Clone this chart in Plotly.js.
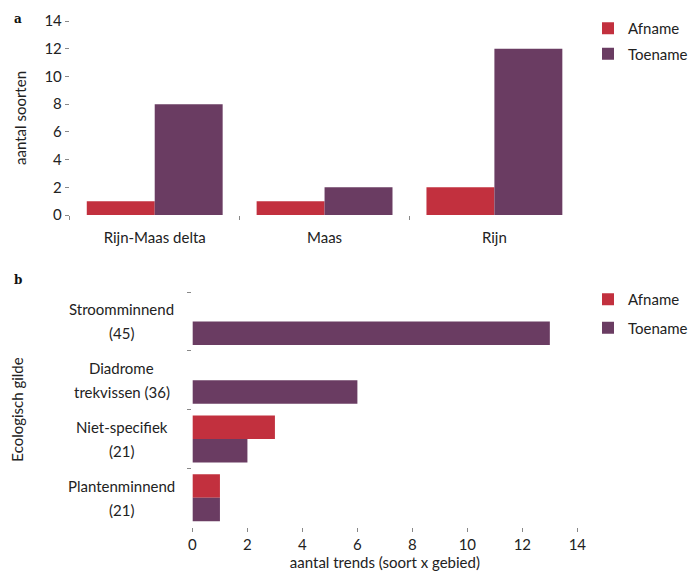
<!DOCTYPE html>
<html>
<head>
<meta charset="utf-8">
<script src="https://cdn.plot.ly/plotly-3.0.1.min.js"></script>
<style>html,body{margin:0;padding:0;background:#fff;}#chart{width:693px;height:571px;}</style>
</head>
<body>
<div id="chart"></div>
<script>
// Panel a
const regions = ['Rijn-Maas delta', 'Maas', 'Rijn'];
const regionAfname = [1, 1, 2];
const regionToename = [8, 2, 12];
const yTicksA = [0, 2, 4, 6, 8, 10, 12, 14];

// Panel b
const guilds = ['Stroomminnend<br>(45)', 'Diadrome<br>trekvissen (36)', 'Niet-specifiek<br>(21)', 'Plantenminnend<br>(21)'];
const guildAfname = [0, 0, 3, 1];
const guildToename = [13, 6, 2, 1];
const xTicksB = [0, 2, 4, 6, 8, 10, 12, 14];

const seriesNames = ['Afname', 'Toename'];
const RED = '#c2303e';
const PURPLE = '#6a3c62';
const FONT = 'Lato, "Open Sans", sans-serif';
const TXT = '#222222';
const FS = 15;

const traces = [
  {type: 'bar', x: regions, y: regionAfname, name: seriesNames[0], marker: {color: RED},
   xaxis: 'x', yaxis: 'y', legend: 'legend', legendgroup: 'a1'},
  {type: 'bar', x: regions, y: regionToename, name: seriesNames[1], marker: {color: PURPLE},
   xaxis: 'x', yaxis: 'y', legend: 'legend', legendgroup: 'a2'},
  {type: 'bar', orientation: 'h', y: guilds, x: guildAfname, name: seriesNames[0], marker: {color: RED},
   xaxis: 'x2', yaxis: 'y2', legend: 'legend2', legendgroup: 'b1'},
  {type: 'bar', orientation: 'h', y: guilds, x: guildToename, name: seriesNames[1], marker: {color: PURPLE},
   xaxis: 'x2', yaxis: 'y2', legend: 'legend2', legendgroup: 'b2'}
];

const W = 693, H = 571;
const annotations = [];
guilds.forEach(g => {
  const lines = g.split('<br>');
  lines.forEach((ln, i) => {
    annotations.push({
      text: ln, xref: 'paper', yref: 'y2', x: 122 / W, y: g, xanchor: 'center', yanchor: 'middle',
      yshift: ((lines.length - 1) / 2 - i) * 24, showarrow: false,
      font: {family: FONT, size: FS, color: TXT}
    });
  });
});
annotations.push({text: '<b>a</b>', xref: 'paper', yref: 'paper', x: 12 / W, y: 1 - 19 / H,
  xanchor: 'left', yanchor: 'middle', showarrow: false, font: {family: '"DejaVu Serif", serif', size: 12, color: '#111'}});
annotations.push({text: '<b>b</b>', xref: 'paper', yref: 'paper', x: 12 / W, y: 1 - 280 / H,
  xanchor: 'left', yanchor: 'middle', showarrow: false, font: {family: '"DejaVu Serif", serif', size: 12, color: '#111'}});

const axBase = {showgrid: false, zeroline: false, showline: false, ticks: 'outside', ticklen: 4,
  tickcolor: '#888', tickfont: {family: FONT, size: FS, color: TXT}, fixedrange: true};

const layout = {
  width: W, height: H,
  margin: {l: 0, r: 0, t: 0, b: 0},
  paper_bgcolor: '#fff', plot_bgcolor: '#fff',
  font: {family: FONT, size: FS, color: TXT},
  barmode: 'group', bargap: 0.2, bargroupgap: 0,
  showlegend: true,
  xaxis: Object.assign({}, axBase, {domain: [70 / W, 581 / W], anchor: 'y', tickson: 'boundaries',
    ticklabelstandoff: 12, categoryorder: 'array', categoryarray: regions}),
  yaxis: Object.assign({}, axBase, {domain: [1 - 215 / H, 1 - 21 / H], anchor: 'x', range: [0, 14],
    tickvals: yTicksA, title: {text: 'aantal soorten', font: {family: FONT, size: FS, color: TXT}, standoff: 14}}),
  xaxis2: Object.assign({}, axBase, {domain: [193 / W, 579 / W], anchor: 'y2', range: [0, 14], tickvals: xTicksB,
    title: {text: 'aantal trends (soort x gebied)', font: {family: FONT, size: FS, color: TXT}, standoff: 3}}),
  yaxis2: Object.assign({}, axBase, {domain: [1 - 527 / H, 1 - 292 / H], anchor: 'x2', tickson: 'boundaries',
    autorange: 'reversed', categoryorder: 'array', categoryarray: guilds, showticklabels: false,
    title: {text: 'Ecologisch gilde', font: {family: FONT, size: FS, color: TXT}, standoff: 164}}),
  legend: {x: 590 / W, y: 1 - 12 / H, xanchor: 'left', yanchor: 'top', bgcolor: 'rgba(0,0,0,0)',
    font: {family: FONT, size: FS, color: TXT}, traceorder: 'grouped', tracegroupgap: 3},
  legend2: {x: 590 / W, y: 1 - 283 / H, xanchor: 'left', yanchor: 'top', bgcolor: 'rgba(0,0,0,0)',
    font: {family: FONT, size: FS, color: TXT}, traceorder: 'grouped', tracegroupgap: 6},
  annotations: annotations
};

Plotly.newPlot('chart', traces, layout, {displayModeBar: false, staticPlot: true});
</script>
</body>
</html>
